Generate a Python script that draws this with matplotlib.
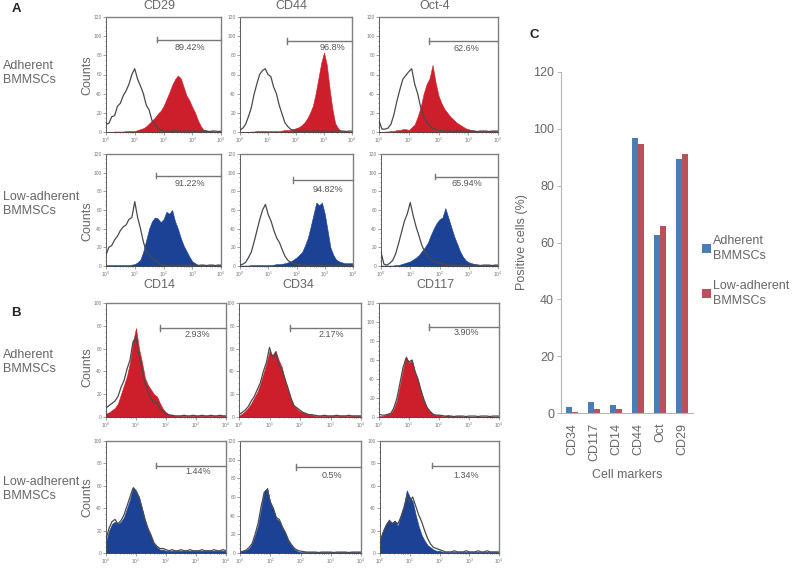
import numpy as np
import matplotlib
matplotlib.use('Agg')
import matplotlib.pyplot as plt
from matplotlib.ticker import MultipleLocator, NullFormatter, LogLocator

W, H = 793, 570
plt.rcParams['font.family'] = ['Liberation Sans', 'DejaVu Sans']
GREY = '#666666'
RED = '#cc1f2b'
BLUE = '#1c4296'

# histogram bins, log10 decades
decades = [0, .1, .2, .3, .4, .5, .6, .7, .8, .9, 1.0, 1.1, 1.2, 1.3, 1.4, 1.5, 1.6, 1.7, 1.8, 1.9,
           2.0, 2.1, 2.2, 2.3, 2.4, 2.5, 2.6, 2.7, 2.8, 2.9, 3.0, 3.1, 3.2, 3.3, 3.4, 3.5, 3.6, 3.7, 3.8, 3.9, 4.0]

# panel A, adherent
cd29_adh_iso = [8, 9, 16, 17, 27, 30, 38, 43, 50, 60, 66, 55, 48, 40, 28, 23, 12, 8, 4, 2, 1, 1, .5, 1, 1.5, 1, .5, 1, 1, .5, 1, 1, .5, 1, 1.5, 1, .5, 1, 1, .5, 1]
cd29_adh_pos = [0, 0, 0, .5, .5, .5, .5, 1, 1, 1, 1, 2, 3, 4, 6, 9, 12, 15, 19, 22, 27, 34, 41, 49, 55, 59, 56, 47, 38, 33, 26, 20, 12, 6, 2, 1.5, 1, 1, .5, .5, 1]
cd44_adh_iso = [2, 4, 8, 16, 25, 39, 50, 60, 64, 66, 60, 58, 47, 40, 28, 19, 10, 6, 3, 2, 1, 1, .5, 1, 1, .5, 1, 1.5, 1, .5, 1, 1, .5, 1, 1, .5, 1, 1, .5, 1, 1]
cd44_adh_pos = [0, 0, 0, 0, .5, .5, 1, 1, 1, 1, 1, 1, 1, 1, 1, 1.5, 2, 2, 2, 3, 4, 5, 7, 10, 14, 20, 27, 40, 56, 72, 83, 70, 45, 24, 9, 4, 1, 1, .5, .5, .5]
oct_adh_iso = [12, 3, 3, 4, 8, 18, 32, 44, 55, 59, 63, 66, 50, 40, 26, 17, 10, 7, 4, 3, 2, 1.5, 1, 1, 1, .5, 1, 1, 1, .5, 1, 1, 1, .5, 1, 1, 1, .5, 1, 1, 1]
oct_adh_pos = [0, 0, .5, .5, 1, 1, 2, 2, 3, 3, 2, 5, 8, 16, 26, 40, 50, 56, 70, 52, 38, 30, 24, 20, 16, 13, 10, 8, 6, 4, 3, 2, 1.5, 1, 1, 1, 1, 1, 1, 1, 1]
# panel A, low-adherent
cd29_low_iso = [12, 20, 22, 28, 32, 38, 42, 44, 50, 52, 69, 52, 40, 26, 15, 12, 9, 6, 4, 2, 1, 1, .5, 1, 1, .5, 1, 1, .5, 1, 1, 1, .5, 1, 1, .5, 1, 1, .5, 1, 1]
cd29_low_pos = [1, 1, 1, 1, 1, 1, 1, 1, 1, 1.5, 2, 4, 7, 16, 28, 40, 48, 52, 51, 47, 50, 58, 56, 60, 48, 40, 30, 22, 16, 10, 5, 3, 1, 1, 1, .5, 1, 1, .5, 1, 1]
cd44_low_iso = [1, 2, 4, 9, 15, 26, 38, 50, 60, 66, 55, 48, 38, 30, 25, 17, 10, 6, 4, 3, 2, 1.5, 1, 1, .5, 1, 1, .5, 1, 1, .5, 1, 1, .5, 1, 1, .5, 1, 1, .5, 1]
cd44_low_pos = [.5, .5, .5, .5, 1, 1, 1, 1, 1, 1, 1, 1, 1.5, 2, 2, 2.5, 3, 4, 5, 7, 9, 12, 15, 22, 30, 42, 55, 68, 65, 68, 56, 38, 20, 12, 7, 5, 4, 3, 3, 3, 3]
oct_low_iso = [15, 2, 1, 3, 6, 13, 24, 36, 48, 56, 68, 54, 42, 32, 22, 15, 10, 7, 5, 4, 3, 2, 2, 1, 1, 1, .5, 1, 1, 1, .5, 1, 1, 1, .5, 1, 1, 1, .5, 1, 1]
oct_low_pos = [.5, .5, .5, .5, .5, 1, 1, 2, 3, 4, 5, 7, 9, 12, 16, 20, 25, 33, 40, 46, 50, 52, 62, 52, 42, 32, 24, 16, 10, 6, 4, 3, 2, 1.5, 1, 1, 1, 1, 1, 1, 1]
# panel B, adherent
cd14_adh_iso = [8, 10, 12, 14, 18, 26, 32, 42, 50, 66, 70, 54, 42, 30, 22, 16, 12, 13, 7, 5, 3, 2, 1.5, 1, 1, 1, 1.5, 1, 1, 1.5, 1, 1, 1.5, 1, 1, 1.5, 1, 1, 1.5, 1, 1]
cd14_adh_pos = [3, 4, 6, 8, 12, 20, 28, 36, 48, 66, 78, 60, 48, 34, 28, 24, 20, 18, 12, 7, 4, 2, 2, 1, 1, 1, 1, 1, 1, 1, 1, 1, 1, 1, 1, 1, 1, 1, 1, 1, 1]
cd34_adh_iso = [2, 4, 6, 9, 14, 18, 24, 30, 40, 48, 61, 52, 57, 46, 42, 34, 26, 17, 10, 8, 6, 4, 3, 2, 2, 1.5, 1, 1, 1.5, 1, 1, 1, 1.5, 1, 1, 1, 1.5, 1, 1, 1, 1]
cd34_adh_pos = [1, 3, 5, 8, 12, 17, 22, 29, 38, 47, 58, 54, 58, 50, 44, 33, 24, 16, 10, 7, 5, 4, 3, 2, 2, 1, 1, 1, 1, 1, 1, 1, 1, 1, 1, 1, 1, 1, 1, 1, 1]
cd117_adh_iso = [3, 2, 2, 3, 4, 10, 20, 36, 52, 62, 58, 60, 48, 40, 28, 18, 10, 6, 3, 2, 2, 1.5, 1, 1, 1, .5, 1, 1, 1, .5, 1, 1, 1, .5, 1, 1, 1, .5, 1, 1, 1]
cd117_adh_pos = [1, 1, 2, 3, 4, 9, 18, 34, 50, 64, 57, 60, 47, 38, 27, 17, 10, 6, 3, 2, 2, 1, 1, 2, 1, 1, 1, 1, .5, .5, .5, .5, .5, .5, .5, .5, .5, .5, .5, .5, .5]
# panel B, low-adherent
cd14_low_iso = [12, 22, 28, 30, 26, 29, 34, 42, 50, 58, 54, 50, 40, 30, 22, 16, 9, 6, 4, 4, 3, 2, 3, 2, 2, 3, 2, 2, 3, 2, 2, 2, 3, 2, 2, 2, 3, 2, 2, 3, 2]
cd14_low_pos = [10, 20, 26, 28, 26, 28, 32, 40, 48, 59, 56, 50, 40, 29, 21, 15, 8, 5, 3, 3, 2, 2, 2, 2, 2, 2, 2, 2, 2, 2, 2, 2, 2, 2, 2, 2, 2, 2, 2, 2, 2]
cd34_low_iso = [1, 2, 3, 6, 10, 20, 32, 50, 65, 68, 55, 48, 38, 36, 28, 22, 14, 9, 5, 3, 2, 1.5, 1, 1, 1, 1, .5, 1, 1, 1, 1, .5, 1, 1, 1, 1, .5, 1, 1, 1, 1]
cd34_low_pos = [1, 2, 3, 5, 10, 19, 30, 48, 66, 70, 54, 47, 37, 34, 27, 21, 13, 8, 4, 2, 1, 1, 1, 1, 1, 1, 1, 1, 1, 1, 1, 1, 1, 1, 1, 1, 1, 1, 1, 1, 1]
cd117_low_iso = [10, 18, 24, 28, 26, 28, 26, 32, 40, 50, 46, 50, 42, 34, 28, 20, 13, 8, 5, 4, 3, 2, 1, 1, 1, 2, 1, 1, 1, 2, 1, 1, 1, 2, 1, 1, 2, 1, 1, 1, 1]
cd117_low_pos = [12, 20, 26, 30, 27, 29, 24, 34, 42, 56, 50, 46, 34, 24, 16, 11, 7, 5, 3, 2, 2, 1, 1, 1, 1, 1, 1, 1, 1, 1, 1, 1, 1, 1, 1, 1, 1, 1, 1, 1, 1]

# bar chart
markers = ['CD34', 'CD117', 'CD14', 'CD44', 'Oct', 'CD29']
adherent = [2.17, 3.90, 2.93, 96.8, 62.6, 89.42]
low_adherent = [0.5, 1.34, 1.44, 94.82, 65.94, 91.22]


def fig_xy(px, py):
    return px / W, 1 - py / H


def px_axes(fig, x0, y0, x1, y1):
    return fig.add_axes([x0 / W, 1 - y1 / H, (x1 - x0) / W, (y1 - y0) / H])


def histogram(fig, box, iso, pos, color, ymax, gate_x, gate_y, label, label_x, label_y):
    ax = px_axes(fig, *box)
    x = 10 ** np.array(decades)
    ax.fill_between(x, 0, pos, color=color, lw=0.4)
    ax.plot(x, iso, color='#4a4a4a', lw=0.9)
    ax.set_xscale('log')
    ax.set_xlim(1, 1e4)
    ax.set_ylim(0, ymax)
    ax.xaxis.set_major_locator(LogLocator(base=10, numticks=6))
    ax.xaxis.set_minor_locator(LogLocator(base=10, subs=range(2, 10), numticks=6))
    ax.xaxis.set_minor_formatter(NullFormatter())
    ax.yaxis.set_major_locator(MultipleLocator(20))
    ax.yaxis.set_minor_locator(MultipleLocator(5))
    ax.tick_params(which='major', labelsize=3.5, length=2, width=0.5, pad=1, colors='#777777')
    ax.tick_params(which='minor', length=1, width=0.4, colors='#555555')
    for side in ['top', 'right']:
        ax.spines[side].set_color('#808080')
        ax.spines[side].set_linewidth(1)
    ax.spines['bottom'].set_color('#444444')
    ax.spines['left'].set_color('#444444')
    ax.spines['bottom'].set_linewidth(0.6)
    ax.spines['left'].set_linewidth(0.6)
    # gate marker
    ax.plot([10 ** gate_x, 1e4], [gate_y, gate_y], color='#777777', lw=1, clip_on=False)
    ax.plot([10 ** gate_x] * 2, [gate_y - ymax * 0.025, gate_y + ymax * 0.025], color='#777777', lw=1)
    ax.text(10 ** label_x, label_y, label, fontsize=6.5, color='#555555', ha='center', va='center')
    return ax


fig = plt.figure(figsize=(W / 100, H / 100), dpi=100)
fig.patch.set_facecolor('white')

hist_panels = [
    ((106, 17, 221, 132), cd29_adh_iso, cd29_adh_pos, RED, 120, 1.78, 96.5, '89.42%', 2.91, 88),
    ((240, 17, 352, 132), cd44_adh_iso, cd44_adh_pos, RED, 120, 1.67, 95, '96.8%', 3.3, 88),
    ((379, 17, 498, 132), oct_adh_iso, oct_adh_pos, RED, 120, 1.67, 95, '62.6%', 2.95, 87),
    ((106, 154, 221, 266), cd29_low_iso, cd29_low_pos, BLUE, 120, 1.73, 96.8, '91.22%', 2.91, 88.6),
    ((240, 154, 353, 266), cd44_low_iso, cd44_low_pos, BLUE, 120, 1.89, 92, '94.82%', 3.1, 82.5),
    ((381, 154, 498, 266), oct_low_iso, oct_low_pos, BLUE, 120, 1.84, 95.7, '65.94%', 2.93, 88.6),
    ((106, 303, 226, 417), cd14_adh_iso, cd14_adh_pos, RED, 100, 1.79, 78, '2.93%', 3.05, 72),
    ((239, 303, 361, 417), cd34_adh_iso, cd34_adh_pos, RED, 100, 1.67, 78, '2.17%', 3.03, 72),
    ((379, 303, 499, 417), cd117_adh_iso, cd117_adh_pos, RED, 120, 1.65, 95, '3.90%', 2.92, 89),
    ((106, 441, 226, 553), cd14_low_iso, cd14_low_pos, BLUE, 100, 1.68, 78, '1.44%', 3.07, 73),
    ((240, 441, 361, 553), cd34_low_iso, cd34_low_pos, BLUE, 120, 1.86, 92, '0.5%', 3.05, 83),
    ((380, 441, 499, 553), cd117_low_iso, cd117_low_pos, BLUE, 100, 1.76, 78, '1.34%', 2.9, 69),
]
for panel in hist_panels:
    histogram(fig, *panel)


def label(px, py, s, **kw):
    kw.setdefault('fontsize', 9)
    kw.setdefault('color', GREY)
    kw.setdefault('va', 'center')
    fx, fy = fig_xy(px, py)
    fig.text(fx, fy, s, **kw)


# column titles
for px, py, s in [(159, 6, 'CD29'), (291, 6, 'CD44'), (435, 6, 'Oct-4'),
                  (159, 285, 'CD14'), (298, 285, 'CD34'), (435, 285, 'CD117')]:
    label(px, py, s, ha='center')

# row labels
for py, s in [(73, 'Adherent\nBMMSCs'), (204, 'Low-adherent\nBMMSCs'),
              (362, 'Adherent\nBMMSCs'), (489, 'Low-adherent\nBMMSCs')]:
    label(3, py, s, ha='left', linespacing=1.2)
for py in [75, 221, 367, 497]:
    label(87, py, 'Counts', ha='center', rotation=90)

# panel letters
for px, py, s in [(16, 9, 'A'), (16, 313, 'B'), (534, 35, 'C')]:
    label(px, py, s, ha='center', color='#222222', fontweight='bold', fontsize=9.5)

# panel C
ax = px_axes(fig, 561, 72, 693, 413)
pos = np.arange(len(markers))
width = 0.29
ax.bar(pos - width / 2, adherent, width, color='#4a7cb5', label='Adherent\nBMMSCs')
ax.bar(pos + width / 2, low_adherent, width, color='#b9505b', label='Low-adherent\nBMMSCs')
ax.set_xlim(-0.5, 5.5)
ax.set_ylim(0, 120)
ax.set_xticks(pos)
ax.set_xticklabels(markers, rotation=90)
ax.yaxis.set_major_locator(MultipleLocator(20))
ax.tick_params(axis='x', length=0, labelsize=9, labelcolor=GREY, pad=7)
ax.tick_params(axis='y', length=3, width=0.7, color='#b5b5b5', labelsize=9, labelcolor=GREY, pad=2)
for side in ['top', 'right']:
    ax.spines[side].set_visible(False)
for side in ['left', 'bottom']:
    ax.spines[side].set_color('#b5b5b5')
ax.set_ylabel('Positive cells (%)', fontsize=9, color=GREY, labelpad=4)
ax.set_xlabel('Cell markers', fontsize=9, color=GREY, labelpad=6)
leg = ax.legend(loc='center left', bbox_to_anchor=fig_xy(702, 271), bbox_transform=fig.transFigure,
                frameon=False, fontsize=9, labelcolor=GREY, handlelength=0.7, handleheight=0.7,
                handletextpad=0.15, labelspacing=1.5, borderpad=0, borderaxespad=0)
for t in leg.get_texts():
    t.set_linespacing(1.3)

fig.savefig('out.png', dpi=100)
